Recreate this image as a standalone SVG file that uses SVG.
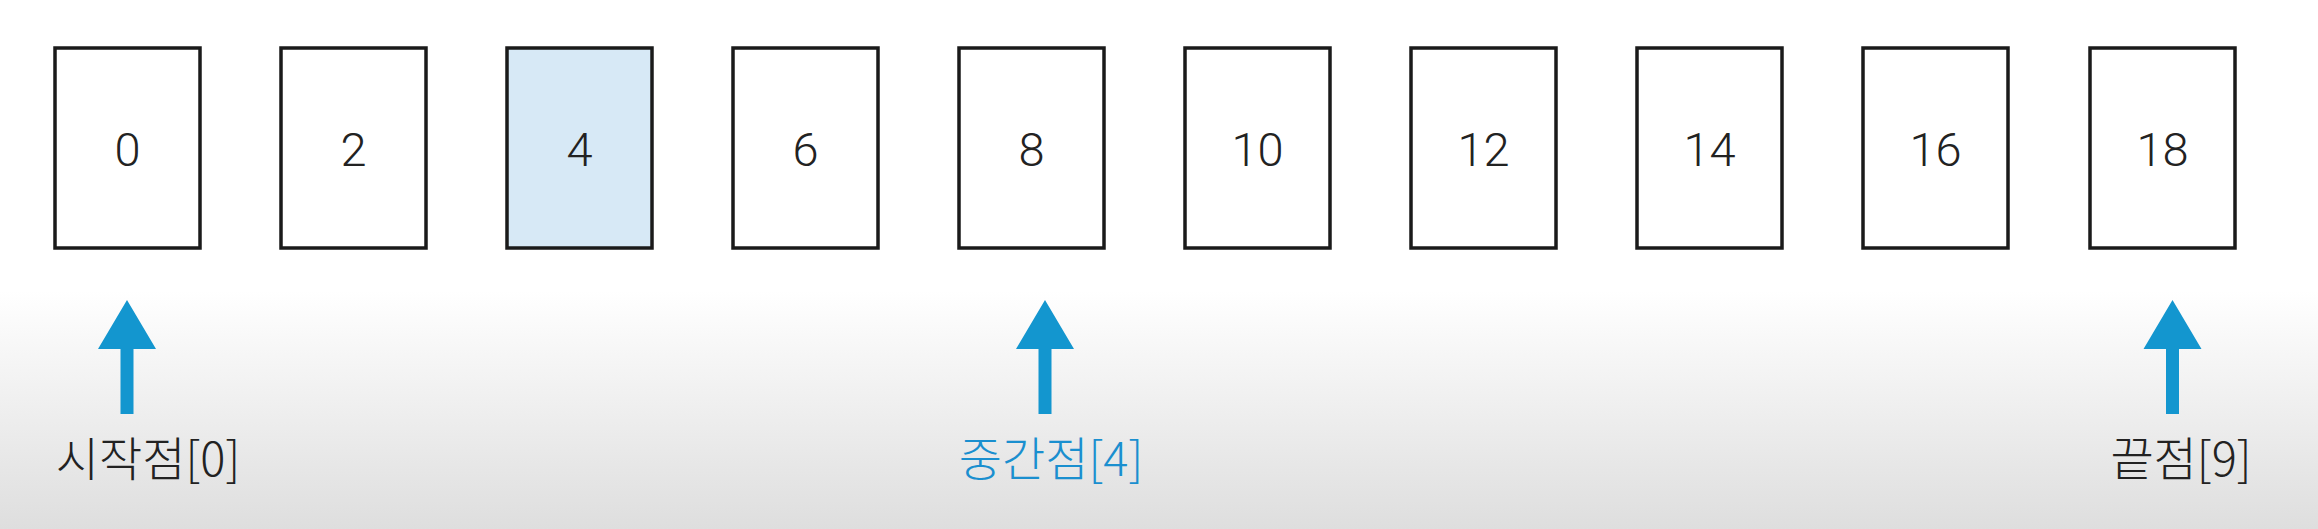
<svg xmlns="http://www.w3.org/2000/svg" width="2318" height="529" viewBox="0 0 2318 529">
  <defs>
    <linearGradient id="bg" x1="0" y1="0" x2="0" y2="529" gradientUnits="userSpaceOnUse">
      <stop offset="0" stop-color="#ffffff"/>
      <stop offset="0.55" stop-color="#ffffff"/>
      <stop offset="1" stop-color="#dedede"/>
    </linearGradient>
    <style>
      .box { fill: #ffffff; stroke: #1a1a1a; stroke-width: 3.5; }
      .hl { fill: #d7e9f6; }
      .num { font-family: "Roboto", "Liberation Sans", sans-serif; font-size: 47px; font-weight: 300; fill: #222222; text-anchor: middle; }
      .arrow { fill: #1396cf; }
      .lbl { font-family: "Noto Sans CJK KR", "Noto Sans", sans-serif; font-size: 47px; font-weight: 300; fill: #222222; text-anchor: middle; }
      .blue { fill: #1a8fcf; }
    </style>
  </defs>
  <rect x="0" y="0" width="2318" height="529" fill="url(#bg)"/>

  <g id="n0"><rect class="box" x="55" y="48" width="145" height="200"/><text class="num" x="127.5" y="166">0</text></g>
  <g id="n1"><rect class="box" x="281" y="48" width="145" height="200"/><text class="num" x="353.5" y="166">2</text></g>
  <g id="n2"><rect class="box hl" x="507" y="48" width="145" height="200"/><text class="num" x="579.5" y="166">4</text></g>
  <g id="n3"><rect class="box" x="733" y="48" width="145" height="200"/><text class="num" x="805.5" y="166">6</text></g>
  <g id="n4"><rect class="box" x="959" y="48" width="145" height="200"/><text class="num" x="1031.5" y="166">8</text></g>
  <g id="n5"><rect class="box" x="1185" y="48" width="145" height="200"/><text class="num" x="1257.5" y="166">10</text></g>
  <g id="n6"><rect class="box" x="1411" y="48" width="145" height="200"/><text class="num" x="1483.5" y="166">12</text></g>
  <g id="n7"><rect class="box" x="1637" y="48" width="145" height="200"/><text class="num" x="1709.5" y="166">14</text></g>
  <g id="n8"><rect class="box" x="1863" y="48" width="145" height="200"/><text class="num" x="1935.5" y="166">16</text></g>
  <g id="n9"><rect class="box" x="2090" y="48" width="145" height="200"/><text class="num" x="2162.5" y="166">18</text></g>

  <g id="connectors">
    <path class="arrow" d="M127,300 L156,349 L133.5,349 L133.5,414 L120.5,414 L120.5,349 L98,349 Z"/>
    <path class="arrow" d="M1045,300 L1074,349 L1051.5,349 L1051.5,414 L1038.5,414 L1038.5,349 L1016,349 Z"/>
    <path class="arrow" d="M2172.5,300 L2201.5,349 L2179,349 L2179,414 L2166,414 L2166,349 L2143.5,349 Z"/>
  </g>

  <g id="labels">
    <text class="lbl" x="148" y="476">시작점[0]</text>
    <text class="lbl blue" x="1051" y="476">중간점[4]</text>
    <text class="lbl" x="2181" y="476">끝점[9]</text>
  </g>
</svg>
